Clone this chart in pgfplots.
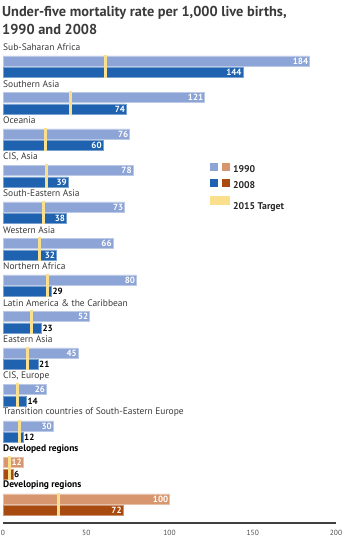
\documentclass[border=0pt]{standalone}
\usepackage{fontspec}
\setmainfont{PT Sans}
\usepackage{pgfplots}
\pgfplotsset{compat=1.18}
\definecolor{cA}{HTML}{8DA4D6}
\definecolor{cB}{HTML}{1F63B0}
\definecolor{tA}{HTML}{D7966E}
\definecolor{tB}{HTML}{A84B10}
\definecolor{tgt}{HTML}{FAE08C}
\definecolor{lab}{HTML}{3A3A3A}
\newcommand\valfont{\fontsize{9}{10}\selectfont\bfseries}
\newcommand\catfont{\fontsize{9.5}{10}\selectfont}
\begin{document}
\begin{tikzpicture}
\useasboundingbox (-3bp,-17bp) rectangle (348bp,523bp);
\node[anchor=north west, inner sep=0pt, align=left, text=lab,
  font=\fontsize{14.4}{18}\selectfont\bfseries] at (-1bp,517bp)
  {Under-five mortality rate per 1,000 live births,\\1990 and 2008};
\begin{axis}[
  scale only axis, width=333bp, height=483bp,
  xmin=0, xmax=200, ymin=0, ymax=483,
  axis y line=none, axis x line*=bottom,
  x axis line style={-, line width=1.3bp, draw=black!75},
  xtick={0,50,100,150,200}, major tick length=0pt,
  xticklabel style={font=\fontsize{7.5}{8}\selectfont, text=black!70, yshift=-3.5bp},
  /pgf/number format/assume math mode=true,
  clip=false,
  legend style={draw=none, fill=none, inner sep=0pt, at={(0.6216,0.745)},
    anchor=north west, font=\fontsize{9.8}{10}\selectfont\bfseries,
    nodes={inner sep=1bp, text=black!85}, column sep=2.5bp, row sep=4bp},
  legend cell align=left,
]
% 1990 blue
\addplot[xbar, bar shift=0pt, bar width=10, fill=cA, draw=cA!60!white, line width=0.5bp, forget plot,
  point meta=x, nodes near coords, nodes near coords style={anchor=east, text=white, font=\valfont, inner sep=1bp}]
  coordinates {(184,462) (121,425.5) (76,389) (78,352.5) (73,316) (66,279.5) (80,243) (52,206.5) (45,170) (26,133.5) (30,97)};
% 2008 blue inside labels
\addplot[xbar, bar shift=0pt, bar width=10, fill=cB, draw=cB!60!white, line width=0.5bp, forget plot,
  point meta=x, nodes near coords, nodes near coords style={anchor=east, text=white, font=\valfont, inner sep=1bp}]
  coordinates {(144,450.5) (74,414) (60,377.5) (39,341) (38,304.5) (32,268)};
% 2008 blue outside labels
\addplot[xbar, bar shift=0pt, bar width=10, fill=cB, draw=cB!60!white, line width=0.5bp, forget plot,
  point meta=x, nodes near coords, nodes near coords style={anchor=west, text=black, font=\valfont, inner sep=1bp}]
  coordinates {(29,231.5) (23,195) (21,158.5) (14,122) (12,85.5)};
% 1990 tan
\addplot[xbar, bar shift=0pt, bar width=10, fill=tA, draw=tA!60!white, line width=0.5bp, forget plot,
  point meta=x, nodes near coords, nodes near coords style={anchor=east, text=white, font=\valfont, inner sep=1bp}]
  coordinates {(12,60.5) (100,24)};
% 2008 brown inside
\addplot[xbar, bar shift=0pt, bar width=10, fill=tB, draw=tB!60!white, line width=0.5bp, forget plot,
  point meta=x, nodes near coords, nodes near coords style={anchor=east, text=white, font=\valfont, inner sep=1bp}]
  coordinates {(72,12.5)};
% 2008 brown outside
\addplot[xbar, bar shift=0pt, bar width=10, fill=tB, draw=tB!60!white, line width=0.5bp, forget plot,
  point meta=x, nodes near coords, nodes near coords style={anchor=west, text=black, font=\valfont, inner sep=1bp}]
  coordinates {(6,49)};
% 2015 targets
\addplot[tgt, line width=3bp, unbounded coords=jump, forget plot] table[row sep=\\] {
x y\\
61.3 468\\ 61.3 444.5\\ nan nan\\
40.3 431.5\\ 40.3 408\\ nan nan\\
25.3 395\\ 25.3 371.5\\ nan nan\\
26 358.5\\ 26 335\\ nan nan\\
24.3 322\\ 24.3 298.5\\ nan nan\\
22 285.5\\ 22 262\\ nan nan\\
26.7 249\\ 26.7 225.5\\ nan nan\\
17.3 212.5\\ 17.3 189\\ nan nan\\
15 176\\ 15 152.5\\ nan nan\\
8.7 139.5\\ 8.7 116\\ nan nan\\
10 103\\ 10 79.5\\ nan nan\\
4 66.5\\ 4 43\\ nan nan\\
33.3 30\\ 33.3 6.5\\
};
% category labels
\begin{scope}[every node/.style={anchor=west, inner sep=0pt, font=\catfont, text=lab}]
\node at (axis cs:0,475.5) {Sub-Saharan Africa};
\node at (axis cs:0,439) {Southern Asia};
\node at (axis cs:0,402.5) {Oceania};
\node at (axis cs:0,366) {CIS, Asia};
\node at (axis cs:0,329.5) {South-Eastern Asia};
\node at (axis cs:0,293) {Western Asia};
\node at (axis cs:0,256.5) {Northern Africa};
\node at (axis cs:0,220) {Latin America \& the Caribbean};
\node at (axis cs:0,183.5) {Eastern Asia};
\node at (axis cs:0,147) {CIS, Europe};
\node at (axis cs:0,110.5) {Transition countries of South-Eastern Europe};
\node[font=\catfont\bfseries, text=black] at (axis cs:0,74) {Developed regions};
\node[font=\catfont\bfseries, text=black] at (axis cs:0,37.5) {Developing regions};
\end{scope}
% legend
\addlegendimage{legend image code/.code={\fill[cA] (0bp,-0.5bp) rectangle (7bp,6.5bp); \fill[tA] (12bp,-0.5bp) rectangle (19bp,6.5bp);}}
\addlegendentry{1990}
\addlegendimage{legend image code/.code={\fill[cB] (0bp,-0.5bp) rectangle (7bp,6.5bp); \fill[tB] (12bp,-0.5bp) rectangle (19bp,6.5bp);}}
\addlegendentry{2008}
\addlegendimage{legend image code/.code={\fill[tgt] (0bp,-1bp) rectangle (19bp,7bp);}}
\addlegendentry{\rule{0pt}{13pt}2015 Target}
\end{axis}
\end{tikzpicture}
\end{document}
